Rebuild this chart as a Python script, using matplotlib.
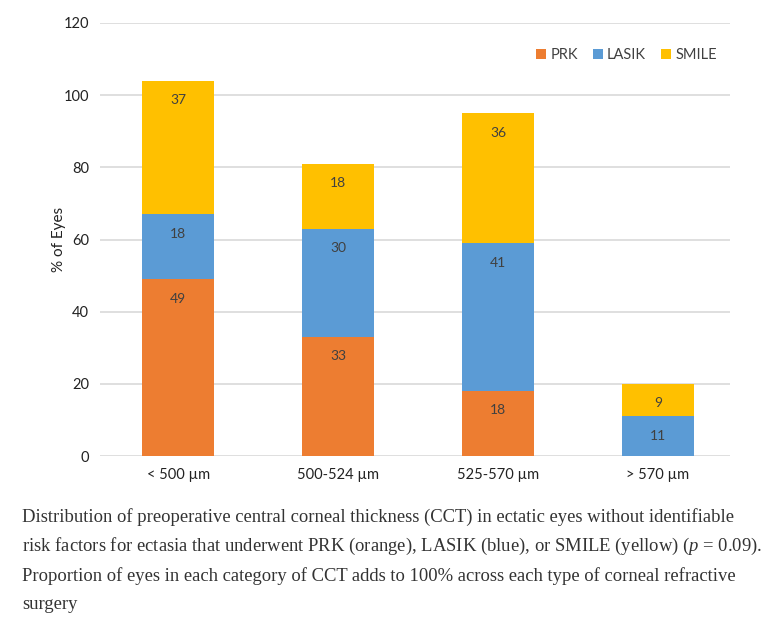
import matplotlib.pyplot as plt
import numpy as np

categories = ['< 500 µm', '500-524 µm', '525-570 µm', '> 570 µm']
prk = [49, 33, 18, 0]
lasik = [18, 30, 41, 11]
smile = [37, 18, 36, 9]

series = [('PRK', prk, '#ED7D31'), ('LASIK', lasik, '#5B9BD5'), ('SMILE', smile, '#FFC000')]

caption = [
    'Distribution of preoperative central corneal thickness (CCT) in ectatic eyes without identifiable',
    'risk factors for ectasia that underwent PRK (orange), LASIK (blue), or SMILE (yellow) ($\\it{p}$ = 0.09).',
    'Proportion of eyes in each category of CCT adds to 100% across each type of corneal refractive',
    'surgery',
]

plt.rcParams['font.family'] = ['Lato', 'DejaVu Sans']
plt.rcParams['mathtext.fontset'] = 'custom'
plt.rcParams['mathtext.it'] = 'Liberation Serif:italic'
plt.rcParams['mathtext.rm'] = 'Liberation Serif'

fig = plt.figure(figsize=(7.82, 6.32), dpi=100)
ax = fig.add_axes([100 / 782, 1 - 456 / 632, 630 / 782, 433 / 632])

x = np.arange(len(categories))
bottom = np.zeros(len(categories))
for name, vals, col in series:
    vals = np.array(vals, dtype=float)
    ax.bar(x, vals, 0.45, bottom=bottom, color=col, label=name, zorder=3)
    for xi, b, v in zip(x, bottom, vals):
        if v > 0:
            ax.annotate(str(int(v)), (xi, b + v), xytext=(0, -14), textcoords='offset points',
                        ha='center', va='center', fontsize=10, color='#404040', zorder=4)
    bottom += vals

ax.set_xlim(-0.49, 3.45)
ax.set_ylim(0, 120)
ax.set_yticks(range(0, 121, 20))
ax.set_xticks(x)
ax.set_xticklabels(categories)
ax.tick_params(length=0, labelsize=10.5, colors='#222222')
ax.tick_params(axis='y', pad=8)
ax.tick_params(axis='x', pad=9)
ax.grid(axis='y', color='#D9D9D9', linewidth=1.2, zorder=0)
for s in ax.spines.values():
    s.set_visible(False)
ax.set_ylabel('% of Eyes', fontsize=11, color='#222222', labelpad=-2)

ax.legend(loc='center right', bbox_to_anchor=(1.0, 0.925), ncol=3, frameon=False,
          fontsize=10.5, handlelength=0.7, handleheight=0.7, handletextpad=0.3,
          columnspacing=1.0, labelcolor='#404040')

for i, line in enumerate(caption):
    fig.text(22 / 782, 1 - (517 + i * 29.3) / 632, line, family='Liberation Serif',
             fontsize=13.4, color='#333333', va='center', ha='left')

fig.savefig('out.png', dpi=100, facecolor='white')
